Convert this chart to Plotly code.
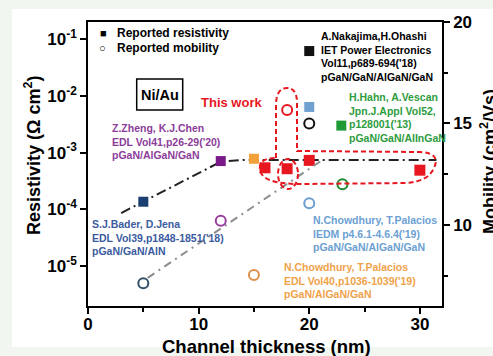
import plotly.graph_objects as go

# ---------------- data ----------------
# resistivity (Ohm cm^2), left log axis
bader_res_x, bader_res_y = [5], [1.36e-4]
zheng_res_x, zheng_res_y = [12], [7.1e-4]
edl_res_x, edl_res_y = [15], [7.8e-4]
iedm_res_x, iedm_res_y = [20], [6.4e-3]
naka_res_x, naka_res_y = [20], [6.2e-2]
hahn_res_x, hahn_res_y = [22.9], [3.0e-3]
tw_res_x, tw_res_y = [16, 18, 20, 30], [5.4e-4, 5.2e-4, 7.3e-4, 4.9e-4]

# mobility (cm^2/Vs), right axis
bader_mob_x, bader_mob_y = [5], [7.12]
zheng_mob_x, zheng_mob_y = [12], [10.2]
edl_mob_x, edl_mob_y = [15], [7.53]
iedm_mob_x, iedm_mob_y = [20], [11.07]
naka_mob_x, naka_mob_y = [20], [15.0]
hahn_mob_x, hahn_mob_y = [23], [12.0]
tw_mob_x, tw_mob_y = [18], [15.66]

# trend guides
res_trend_x = [3, 12, 14, 31.5]
res_trend_y = [8.6e-5, 6.9e-4, 7.45e-4, 7.45e-4]
mob_trend_x = [5.4, 21.2]
mob_trend_y = [7.39, 13.2]

x_ticks = [0, 10, 20, 30]
res_ticks = [1e-5, 1e-4, 1e-3, 1e-2, 1e-1]
res_tick_text = ["10<sup>-5</sup>", "10<sup>-4</sup>", "10<sup>-3</sup>", "10<sup>-2</sup>", "10<sup>-1</sup>"]
mob_ticks = [10, 15, 20]

FONT = "Liberation Sans, Arial, sans-serif"

C_NAVY_SQ, C_NAVY_CI, C_NAVY_TX = "#1c3f72", "#34506a", "#3b5ba0"
C_PURP_SQ, C_PURP_CI, C_PURP_TX = "#7a1a8a", "#9a3fa0", "#8c3d9a"
C_ORG_SQ, C_ORG_CI, C_ORG_TX = "#f2a13a", "#e0904a", "#f0a24a"
C_LB_SQ, C_LB_CI, C_LB_TX = "#6fa0d0", "#6a9ed0", "#6c9fd2"
C_GR_SQ, C_GR_CI, C_GR_TX = "#1e9a36", "#1e8a30", "#2e9c3e"
C_RED = "#e8171f"
C_BLK = "#111111"

fig = go.Figure()

fig.add_trace(go.Scatter(x=res_trend_x, y=res_trend_y, mode="lines", yaxis="y",
                         line=dict(color="#222222", width=2, dash="10px,4px,2px,4px"),
                         hoverinfo="skip"))
fig.add_trace(go.Scatter(x=mob_trend_x, y=mob_trend_y, mode="lines", yaxis="y2",
                         line=dict(color="#8c8c8c", width=2, dash="8px,5px,2px,5px"),
                         hoverinfo="skip"))

def sq(x, y, color, size=10):
    fig.add_trace(go.Scatter(x=x, y=y, mode="markers", yaxis="y",
                             marker=dict(symbol="square", size=size, color=color,
                                         line=dict(width=0))))

def ci(x, y, color):
    fig.add_trace(go.Scatter(x=x, y=y, mode="markers", yaxis="y2",
                             marker=dict(symbol="circle-open", size=10, color=color,
                                         line=dict(width=2, color=color))))

sq(bader_res_x, bader_res_y, C_NAVY_SQ)
sq(zheng_res_x, zheng_res_y, C_PURP_SQ)
sq(edl_res_x, edl_res_y, C_ORG_SQ)
sq(iedm_res_x, iedm_res_y, C_LB_SQ)
sq(naka_res_x, naka_res_y, C_BLK)
sq(hahn_res_x, hahn_res_y, C_GR_SQ)
sq(tw_res_x, tw_res_y, C_RED, 11)

ci(bader_mob_x, bader_mob_y, C_NAVY_CI)
ci(zheng_mob_x, zheng_mob_y, C_PURP_CI)
ci(edl_mob_x, edl_mob_y, C_ORG_CI)
ci(iedm_mob_x, iedm_mob_y, C_LB_CI)
ci(naka_mob_x, naka_mob_y, C_BLK)
ci(hahn_mob_x, hahn_mob_y, C_GR_CI)
ci(tw_mob_x, tw_mob_y, C_RED)

# plot area in pixels: x 88..442, y 22..306
L, R, T, B = 88, 442, 22, 306
def px(p):
    return (p - L) / (R - L)
def py(p):
    return (B - p) / (B - T)

def ann(text, x, y, color="black", size=10.5, xanchor="left", angle=0):
    return dict(text=text, x=px(x), y=py(y), xref="paper", yref="paper",
                xanchor=xanchor, yanchor="middle", showarrow=False, align="left",
                textangle=angle,
                font=dict(family=FONT, size=size, color=color, weight="bold"))

annotations = [
    ann("■", 98, 33, size=11),
    ann("Reported resistivity", 115, 33, size=12),
    ann("○", 97, 48, size=11),
    ann("Reported mobility", 115, 48, size=12),
    ann("Ni/Au", 160, 95, size=14.5, xanchor="center"),
    ann("This work", 199, 102.5, color=C_RED, size=13),
    ann("Z.Zheng, K.J.Chen<br>EDL Vol41,p26-29('20)<br>pGaN/AlGaN/GaN", 110, 141, color=C_PURP_TX),
    ann("S.J.Bader, D.Jena<br>EDL Vol39,p1848-1851('18)<br>pGaN/GaN/AlN", 90, 237, color=C_NAVY_TX),
    ann("A.Nakajima,H.Ohashi<br>IET Power Electronics<br>Vol11,p689-694('18)<br>pGaN/GaN/AlGaN/GaN", 319, 56.5),
    ann("H.Hahn, A.Vescan<br>Jpn.J.Appl Vol52,<br>p128001('13)<br>pGaN/GaN/AlInGaN", 347, 117.5, color=C_GR_TX),
    ann("N.Chowdhury, T.Palacios<br>IEDM p4.6.1-4.6.4('19)<br>pGaN/GaN/AlGaN/GaN", 311, 233, color=C_LB_TX),
    ann("N.Chowdhury, T.Palacios<br>EDL Vol40,p1036-1039('19)<br>pGaN/AlGaN/GaN", 282, 280, color=C_ORG_TX),
    ann("Resistivity (Ω cm<sup>2</sup>)", 32, 155, size=18, xanchor="center", angle=-90),
    ann("Mobility (cm<sup>2</sup>/Vs)", 488, 162, size=18, xanchor="center", angle=-90),
    ann("Channel thickness (nm)", 266, 346, size=18.5, xanchor="center"),
]

def nm(p):
    return (p - L) / (R - L) * 32.0
def mob(p):
    return 6.0 + (B - p) / (B - T) * 14.0

def P(x, y):
    return f"{nm(x):.3f},{mob(y):.3f}"

lasso = ("M " + P(276, 158) + " L " + P(276, 103) + " Q " + P(277, 88) + " " + P(287, 88) +
         " Q " + P(297, 88) + " " + P(297, 103) + " L " + P(297, 151) + " L " + P(420, 152) +
         " Q " + P(441, 153) + " " + P(434, 168) + " Q " + P(428, 182) + " " + P(405, 183) +
         " L " + P(300, 184) + " Q " + P(262, 184) + " " + P(260, 170) +
         " Q " + P(258, 158) + " " + P(276, 158))

shapes = [
    dict(type="rect", xref="paper", yref="paper", x0=px(12), x1=px(493), y0=py(347), y1=py(9),
         fillcolor="white", line=dict(width=0), layer="below"),
    dict(type="rect", xref="paper", yref="paper", x0=px(136.7), x1=px(182.7), y0=py(110), y1=py(79),
         line=dict(color="black", width=1.5), fillcolor="rgba(0,0,0,0)"),
    dict(type="path", xref="x", yref="y2", path=lasso,
         line=dict(color=C_RED, width=2, dash="5px,3px")),
    dict(type="circle", xref="x", yref="y2", x0=nm(278), x1=nm(298), y0=mob(189), y1=mob(159),
         line=dict(color=C_RED, width=2, dash="5px,3px")),
]

axis_common = dict(showgrid=False, zeroline=False, showline=True, linecolor="black", linewidth=1.5,
                   ticks="outside", ticklen=6, tickwidth=1.5, tickcolor="black",
                   tickfont=dict(family=FONT, size=17, color="black", weight="bold"))

fig.update_layout(
    width=493, height=356,
    margin=dict(l=L, r=493 - R, t=T, b=356 - B),
    paper_bgcolor="#f2f6f1", plot_bgcolor="white",
    showlegend=False,
    xaxis=dict(range=[0, 32], tickvals=x_ticks, mirror=True, ticklabelstandoff=-4,
               minor=dict(tickvals=[5, 15, 25], ticks="outside", ticklen=4, tickcolor="black", tickwidth=1.5),
               **axis_common),
    yaxis=dict(type="log", range=[-5.706, -0.695], tickvals=res_ticks, ticktext=res_tick_text,
               **axis_common),
    yaxis2=dict(overlaying="y", side="right", range=[6, 20], tickvals=mob_ticks,
                minor=dict(tickvals=[7.5, 12.5, 17.5], ticks="outside", ticklen=4, tickcolor="black", tickwidth=1.5),
                **axis_common),
    annotations=annotations,
    shapes=shapes,
)

fig.write_html("out.html")
